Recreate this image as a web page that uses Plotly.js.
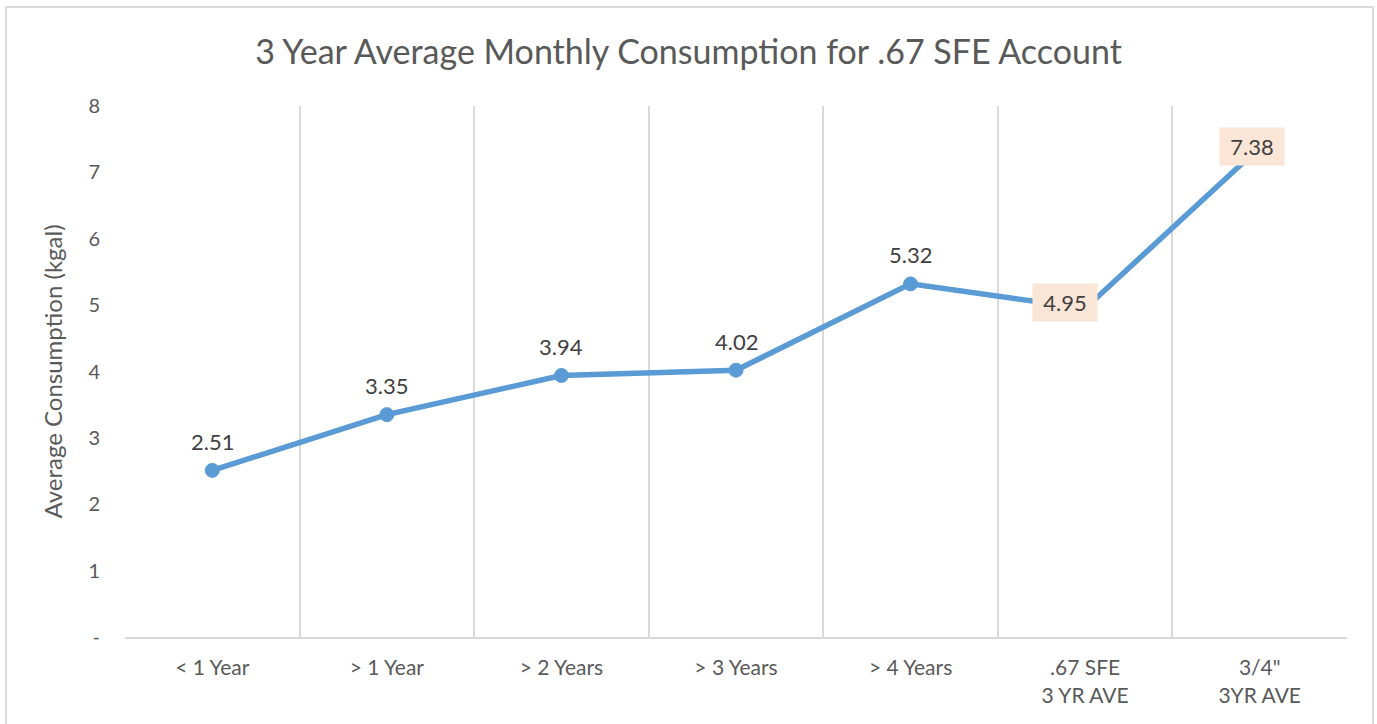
<!DOCTYPE html>
<html>
<head>
<meta charset="utf-8">
<script src="https://cdn.plot.ly/plotly-3.0.1.min.js"></script>
<style>
  html, body { margin: 0; padding: 0; background: #ffffff; }
  #chart { width: 1377px; height: 724px; }
</style>
</head>
<body>
<div id="chart"></div>
<script>
var categories = ["< 1 Year", "> 1 Year", "> 2 Years", "> 3 Years", "> 4 Years", ".67 SFE<br>3 YR AVE", "3/4\"<br>3YR AVE"];
var consumption = [2.51, 3.35, 3.94, 4.02, 5.32, 4.95, 7.38];
var showMarker = [true, true, true, true, true, false, false];
var highlighted = [false, false, false, false, false, true, true];
var yTickVals = [0, 1, 2, 3, 4, 5, 6, 7, 8];
var yTickText = ["-", "1", "2", "3", "4", "5", "6", "7", "8"];

var W = 1377, H = 724;
var mL = 125, mR = 30, mT = 106, mB = 87;
var pw = W - mL - mR, ph = H - mT - mB;

var font = "Lato, 'Open Sans', sans-serif";
var textColor = "#595959";
var labelColor = "#404040";

var trace = {
  type: "scatter",
  mode: "lines+markers",
  x: categories,
  y: consumption,
  line: { color: "#5B9BD5", width: 5.5 },
  marker: {
    color: "#5B9BD5",
    opacity: 1,
    size: showMarker.map(function (m) { return m ? 14 : 0; }),
    line: { width: 1, color: "#5B9BD5" }
  },
  hoverinfo: "x+y",
  cliponaxis: false
};

var annotations = consumption.map(function (v, i) {
  if (highlighted[i]) {
    return {
      x: categories[i], y: v, xref: "x", yref: "y",
      text: v.toFixed(2), showarrow: false,
      font: { family: font, size: 22, color: labelColor },
      bgcolor: "#FBE5D6", borderpad: 6, width: 52, height: 25,
      xshift: i === 5 ? -20 : -8, yshift: i === 5 ? 6 : 1
    };
  }
  return {
    x: categories[i], y: v, xref: "x", yref: "y",
    text: v.toFixed(2), showarrow: false,
    font: { family: font, size: 22, color: labelColor },
    yshift: 29
  };
});

var layout = {
  width: W, height: H,
  margin: { l: mL, r: mR, t: mT, b: mB, pad: 0 },
  paper_bgcolor: "#ffffff",
  plot_bgcolor: "#ffffff",
  showlegend: false,
  font: { family: font, color: textColor },
  title: {
    text: "3 Year Average Monthly Consumption for .67 SFE Account",
    font: { family: font, size: 34, color: textColor },
    x: 0.5, xref: "container", xanchor: "center",
    y: 1 - 52 / H, yref: "container", yanchor: "middle"
  },
  xaxis: {
    type: "category",
    range: [-0.5, categories.length - 0.5],
    tickson: "boundaries",
    ticks: "",
    showgrid: true,
    gridcolor: "#d9d9d9",
    gridwidth: 2,
    showline: true,
    linecolor: "#d9d9d9",
    linewidth: 2,
    zeroline: false,
    tickfont: { family: font, size: 21, color: textColor },
    ticklabelstandoff: 11,
    fixedrange: true
  },
  yaxis: {
    range: [0, 8],
    tickvals: yTickVals,
    ticktext: yTickText,
    showgrid: false,
    zeroline: false,
    showline: false,
    ticks: "",
    tickfont: { family: font, size: 20, color: textColor },
    ticklabelstandoff: 24,
    title: {
      text: "Average Consumption (kgal)",
      font: { family: font, size: 24, color: textColor },
      standoff: 18
    },
    fixedrange: true
  },
  annotations: annotations,
  shapes: [{
    type: "rect", xref: "paper", yref: "paper",
    x0: (6 - mL) / pw, x1: 1 + (W - 4 - (mL + pw)) / pw,
    y0: -(H + 10 - (mT + ph)) / ph, y1: 1 + (mT - 7) / ph,
    line: { color: "#d9d9d9", width: 2 },
    fillcolor: "rgba(0,0,0,0)",
    layer: "below"
  }]
};

Plotly.newPlot("chart", [trace], layout, { displayModeBar: false, staticPlot: true });
</script>
</body>
</html>
